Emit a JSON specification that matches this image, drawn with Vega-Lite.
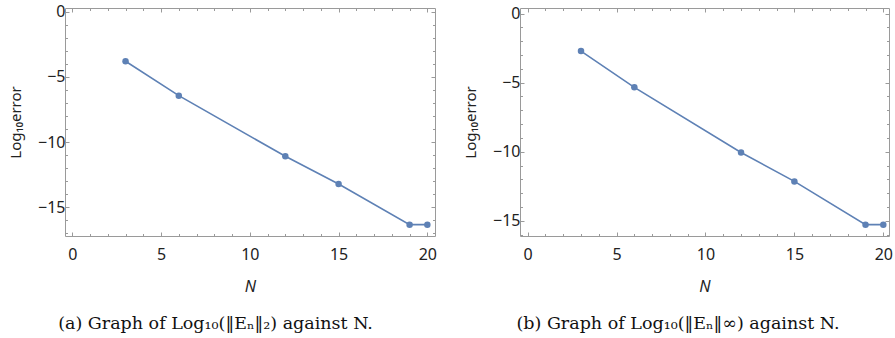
{
  "$schema": "https://vega.github.io/schema/vega-lite/v6.json",
  "background": "white",
  "padding": {"left": 8, "top": 3, "right": 0, "bottom": 0},
  "spacing": 25,
  "datasets": {
    "l2": [
      {"N": 3, "err": -3.80},
      {"N": 6, "err": -6.44},
      {"N": 12, "err": -11.09},
      {"N": 15, "err": -13.21},
      {"N": 19, "err": -16.33},
      {"N": 20, "err": -16.33}
    ],
    "linf": [
      {"N": 3, "err": -2.72},
      {"N": 6, "err": -5.34},
      {"N": 12, "err": -10.06},
      {"N": 15, "err": -12.15},
      {"N": 19, "err": -15.28},
      {"N": 20, "err": -15.28}
    ]
  },
  "config": {
    "view": {"stroke": "#9a9a9a", "strokeWidth": 1},
    "axis": {
      "grid": false,
      "domain": false,
      "tickColor": "#9a9a9a",
      "labelFont": "Noto Sans",
      "labelFontSize": 16,
      "labelColor": "#222222",
      "titleFont": "Noto Sans",
      "titleColor": "#222222",
      "titleFontWeight": "normal"
    },
    "title": {"font": "DejaVu Serif", "fontSize": 17.5, "fontWeight": "normal", "color": "#111111", "orient": "bottom", "anchor": "middle", "frame": "bounds", "offset": 21}
  },
  "hconcat": [
    {
      "width": 370,
      "height": 228,
      "title": {"text": "(a) Graph of Log₁₀(‖Eₙ‖₂) against N.", "dx": -7},
      "data": {"name": "l2"},
      "resolve": {"axis": {"x": "independent", "y": "independent"}},
      "layer": [
        {
          "mark": {"type": "line", "color": "#5E81B5", "strokeWidth": 1.6, "point": {"filled": true, "size": 42, "color": "#5E81B5", "opacity": 1}},
          "encoding": {
            "x": {"field": "N", "type": "quantitative", "scale": {"domain": [-0.41, 20.43], "nice": false, "zero": false},
              "axis": {"orient": "bottom", "values": [0, 5, 10, 15, 20], "tickSize": -4, "labelPadding": 14, "title": "N", "titleFontStyle": "italic", "titleFontSize": 16, "titlePadding": 16}},
            "y": {"field": "err", "type": "quantitative", "scale": {"domain": [-17.2, 0.28], "nice": false, "zero": false},
              "axis": {"orient": "left", "values": [0, -5, -10, -15], "tickSize": -4, "labelPadding": 4, "title": "Log₁₀error", "titleFontSize": 15, "titlePadding": 14}}
          }
        },
        {
          "mark": {"type": "point", "opacity": 0},
          "encoding": {
            "x": {"field": "N", "type": "quantitative", "scale": {"domain": [-0.41, 20.43], "nice": false, "zero": false},
              "axis": {"orient": "bottom", "values": [0,1,2,3,4,5,6,7,8,9,10,11,12,13,14,15,16,17,18,19,20], "tickSize": -2.5, "labels": false, "title": null}},
            "y": {"field": "err", "type": "quantitative", "scale": {"domain": [-17.2, 0.28], "nice": false, "zero": false},
              "axis": {"orient": "left", "values": [0,-1,-2,-3,-4,-5,-6,-7,-8,-9,-10,-11,-12,-13,-14,-15,-16,-17], "tickSize": -2.5, "labels": false, "title": null}}
          }
        },
        {
          "mark": {"type": "point", "opacity": 0},
          "encoding": {
            "x": {"field": "N", "type": "quantitative", "scale": {"domain": [-0.41, 20.43], "nice": false, "zero": false},
              "axis": {"orient": "top", "values": [0, 5, 10, 15, 20], "tickSize": -4, "labels": false, "title": null}},
            "y": {"field": "err", "type": "quantitative", "scale": {"domain": [-17.2, 0.28], "nice": false, "zero": false},
              "axis": {"orient": "right", "values": [0, -5, -10, -15], "tickSize": -4, "labels": false, "title": null}}
          }
        },
        {
          "mark": {"type": "point", "opacity": 0},
          "encoding": {
            "x": {"field": "N", "type": "quantitative", "scale": {"domain": [-0.41, 20.43], "nice": false, "zero": false},
              "axis": {"orient": "top", "values": [0,1,2,3,4,5,6,7,8,9,10,11,12,13,14,15,16,17,18,19,20], "tickSize": -2.5, "labels": false, "title": null}},
            "y": {"field": "err", "type": "quantitative", "scale": {"domain": [-17.2, 0.28], "nice": false, "zero": false},
              "axis": {"orient": "right", "values": [0,-1,-2,-3,-4,-5,-6,-7,-8,-9,-10,-11,-12,-13,-14,-15,-16,-17], "tickSize": -2.5, "labels": false, "title": null}}
          }
        }
      ]
    },
    {
      "width": 369,
      "height": 228,
      "title": {"text": "(b) Graph of Log₁₀(‖Eₙ‖∞) against N."},
      "data": {"name": "linf"},
      "resolve": {"axis": {"x": "independent", "y": "independent"}},
      "layer": [
        {
          "mark": {"type": "line", "color": "#5E81B5", "strokeWidth": 1.6, "point": {"filled": true, "size": 42, "color": "#5E81B5", "opacity": 1}},
          "encoding": {
            "x": {"field": "N", "type": "quantitative", "scale": {"domain": [-0.43, 20.32], "nice": false, "zero": false},
              "axis": {"orient": "bottom", "values": [0, 5, 10, 15, 20], "tickSize": -4, "labelPadding": 14, "title": "N", "titleFontStyle": "italic", "titleFontSize": 16, "titlePadding": 16}},
            "y": {"field": "err", "type": "quantitative", "scale": {"domain": [-16.1, 0.4], "nice": false, "zero": false},
              "axis": {"orient": "left", "values": [0, -5, -10, -15], "tickSize": -4, "labelPadding": 4, "title": "Log₁₀error", "titleFontSize": 15, "titlePadding": 14}}
          }
        },
        {
          "mark": {"type": "point", "opacity": 0},
          "encoding": {
            "x": {"field": "N", "type": "quantitative", "scale": {"domain": [-0.43, 20.32], "nice": false, "zero": false},
              "axis": {"orient": "bottom", "values": [0,1,2,3,4,5,6,7,8,9,10,11,12,13,14,15,16,17,18,19,20], "tickSize": -2.5, "labels": false, "title": null}},
            "y": {"field": "err", "type": "quantitative", "scale": {"domain": [-16.1, 0.4], "nice": false, "zero": false},
              "axis": {"orient": "left", "values": [0,-1,-2,-3,-4,-5,-6,-7,-8,-9,-10,-11,-12,-13,-14,-15,-16], "tickSize": -2.5, "labels": false, "title": null}}
          }
        },
        {
          "mark": {"type": "point", "opacity": 0},
          "encoding": {
            "x": {"field": "N", "type": "quantitative", "scale": {"domain": [-0.43, 20.32], "nice": false, "zero": false},
              "axis": {"orient": "top", "values": [0, 5, 10, 15, 20], "tickSize": -4, "labels": false, "title": null}},
            "y": {"field": "err", "type": "quantitative", "scale": {"domain": [-16.1, 0.4], "nice": false, "zero": false},
              "axis": {"orient": "right", "values": [0, -5, -10, -15], "tickSize": -4, "labels": false, "title": null}}
          }
        },
        {
          "mark": {"type": "point", "opacity": 0},
          "encoding": {
            "x": {"field": "N", "type": "quantitative", "scale": {"domain": [-0.43, 20.32], "nice": false, "zero": false},
              "axis": {"orient": "top", "values": [0,1,2,3,4,5,6,7,8,9,10,11,12,13,14,15,16,17,18,19,20], "tickSize": -2.5, "labels": false, "title": null}},
            "y": {"field": "err", "type": "quantitative", "scale": {"domain": [-16.1, 0.4], "nice": false, "zero": false},
              "axis": {"orient": "right", "values": [0,-1,-2,-3,-4,-5,-6,-7,-8,-9,-10,-11,-12,-13,-14,-15,-16], "tickSize": -2.5, "labels": false, "title": null}}
          }
        }
      ]
    }
  ]
}
